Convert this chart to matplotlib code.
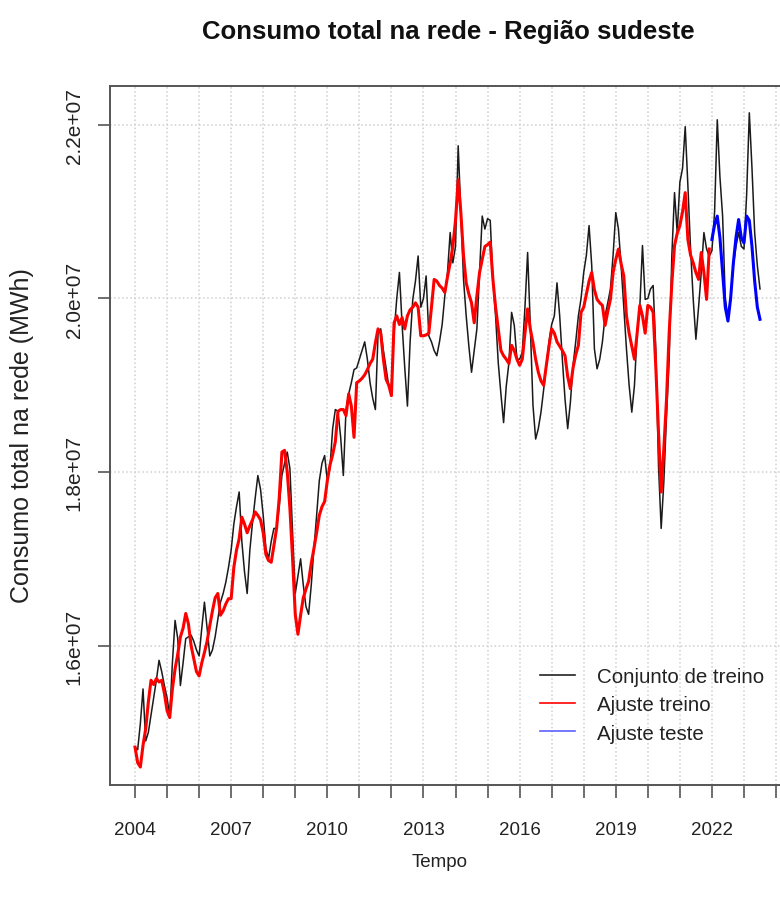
import numpy as np
import matplotlib
matplotlib.use("Agg")
import matplotlib.pyplot as plt
from matplotlib.lines import Line2D

plt.rcParams['font.family'] = ['Liberation Sans', 'DejaVu Sans']

# consumo mensal (milhoes de MWh), jan/2004 em diante
inicio = 2004
conjunto_treino = [
    14.83, 14.80, 15.10, 15.50, 14.90, 15.00, 15.20, 15.40, 15.60, 15.83, 15.70, 15.54,
    15.40, 15.19, 15.80, 16.29, 16.08, 15.54, 15.80, 16.08, 16.10, 16.12, 16.05, 15.95,
    15.88, 16.20, 16.50, 16.20, 15.88, 15.95, 16.10, 16.30, 16.50, 16.60, 16.73, 16.90,
    17.10, 17.40, 17.60, 17.77, 17.20, 16.85, 16.60, 17.10, 17.42, 17.70, 17.96, 17.80,
    17.50, 17.12, 17.00, 17.20, 17.35, 17.35, 17.60, 17.96, 18.10, 18.23, 18.04, 17.30,
    16.60, 16.80, 17.00, 16.70, 16.45, 16.36, 16.70, 17.12, 17.50, 17.90, 18.10, 18.19,
    17.90, 18.05, 18.50, 18.72, 18.70, 18.40, 17.96, 18.72, 18.90, 19.03, 19.18, 19.20,
    19.30, 19.40, 19.50, 19.30, 19.03, 18.85, 18.72, 19.60, 19.65, 19.40, 19.20, 18.99,
    19.00, 19.60, 20.00, 20.30, 19.70, 19.20, 18.76, 19.50, 19.99, 20.20, 20.49, 19.90,
    20.00, 20.26, 19.57, 19.50, 19.40, 19.34, 19.50, 19.70, 20.03, 20.30, 20.76, 20.41,
    20.60, 21.76, 20.99, 20.22, 19.80, 19.45, 19.15, 19.40, 19.65, 20.30, 20.95, 20.80,
    20.92, 20.90, 20.22, 19.80, 19.26, 18.90, 18.57, 18.99, 19.26, 19.84, 19.69, 19.30,
    19.30, 19.38, 19.90, 20.53, 19.69, 18.77, 18.38, 18.50, 18.69, 18.95, 19.23, 19.50,
    19.70, 19.80, 20.18, 19.80, 19.30, 18.84, 18.50, 18.80, 19.23, 19.50, 19.80, 20.00,
    20.30, 20.50, 20.84, 20.38, 19.42, 19.19, 19.30, 19.50, 19.80, 19.95, 20.11, 20.50,
    20.99, 20.80, 20.38, 19.90, 19.42, 19.00, 18.69, 19.00, 19.61, 19.90, 20.61, 19.99,
    20.00, 20.11, 20.15, 19.40, 18.07, 17.35, 17.89, 18.65, 19.30, 20.50, 21.22, 20.76,
    21.34, 21.50, 21.98, 21.30, 20.57, 19.99, 19.53, 19.90, 20.30, 20.76, 20.57, 20.49,
    20.55, 21.00, 22.06, 21.40, 20.95, 19.99, 19.80, 20.00, 20.38, 20.60, 20.76, 20.60,
    20.57, 21.20, 22.14, 21.50, 20.76, 20.38, 20.11,
]
ajuste_treino = [
    14.83, 14.65, 14.60, 14.85, 15.04, 15.35, 15.60, 15.55, 15.62, 15.58, 15.60, 15.45,
    15.25, 15.17, 15.50, 15.73, 15.90, 16.10, 16.20, 16.37, 16.25, 16.00, 15.85, 15.70,
    15.65, 15.80, 15.92, 16.05, 16.23, 16.40, 16.55, 16.60, 16.35, 16.40, 16.48, 16.54,
    16.54, 16.90, 17.10, 17.23, 17.48, 17.40, 17.30, 17.38, 17.45, 17.54, 17.50, 17.45,
    17.30, 17.05, 16.98, 16.96, 17.15, 17.35, 17.70, 18.23, 18.25, 18.00, 17.58, 17.00,
    16.36, 16.13, 16.35, 16.55, 16.65, 16.74, 16.95, 17.12, 17.30, 17.50, 17.60, 17.66,
    17.90, 18.08, 18.20, 18.35, 18.70, 18.72, 18.72, 18.65, 18.90, 18.76, 18.40, 19.03,
    19.05, 19.08, 19.12, 19.18, 19.25, 19.30, 19.49, 19.65, 19.60, 19.30, 19.07, 19.00,
    18.88, 19.72, 19.80, 19.70, 19.78, 19.65, 19.80, 19.87, 19.90, 19.95, 19.90, 19.57,
    19.57, 19.58, 19.60, 19.90, 20.22, 20.20, 20.15, 20.12, 20.07, 20.25, 20.41, 20.60,
    20.90, 21.37, 20.99, 20.49, 20.18, 20.05, 19.95, 19.72, 20.03, 20.30, 20.45, 20.60,
    20.62, 20.65, 20.22, 19.90, 19.65, 19.40, 19.34, 19.30, 19.25, 19.46, 19.40, 19.30,
    19.23, 19.30, 19.60, 19.88, 19.65, 19.49, 19.30, 19.15, 19.05, 19.00, 19.23, 19.45,
    19.65, 19.60, 19.50, 19.45, 19.40, 19.34, 19.10, 18.96, 19.20, 19.35, 19.46, 19.84,
    19.90, 20.05, 20.20, 20.30, 20.10, 19.99, 19.95, 19.92, 19.69, 19.85, 19.99, 20.30,
    20.45, 20.57, 20.40, 20.26, 19.80, 19.60, 19.45, 19.30, 19.60, 19.92, 19.80, 19.60,
    19.92, 19.90, 19.84, 19.20, 18.46, 17.77, 18.27, 18.84, 19.61, 20.18, 20.61, 20.75,
    20.84, 21.00, 21.22, 20.68, 20.50, 20.41, 20.30, 20.22, 20.53, 20.30, 19.99, 20.57,
]
ajuste_teste = [
    20.68, 20.85, 20.95, 20.70, 20.30, 19.90, 19.74, 20.00, 20.40, 20.70, 20.91, 20.70,
    20.64, 20.95, 20.90, 20.60, 20.20, 19.90, 19.76,
]

anos_ticks = list(range(2004, 2025))
y_ticks = [1.6e7, 1.8e7, 2.0e7, 2.2e7]

t_obs = inicio + np.arange(len(conjunto_treino)) / 12
t_fit = inicio + np.arange(len(ajuste_treino)) / 12
t_test = t_fit[-1] + (np.arange(len(ajuste_teste)) + 1) / 12

W, H = 780, 904
fig = plt.figure(figsize=(W / 100, H / 100), dpi=100)
ax = fig.add_axes([110 / W, (H - 786) / H, (785 - 110) / W, (786 - 87) / H])

for v in anos_ticks:
    ax.axvline(v, color='#cfcfcf', ls=':', lw=1.1, zorder=0)
for v in y_ticks:
    ax.axhline(v, color='#cfcfcf', ls=':', lw=1.1, zorder=0)

ax.plot(t_obs, np.array(conjunto_treino) * 1e6, color='#1a1a1a', lw=1.1)
ax.plot(t_fit, np.array(ajuste_treino) * 1e6, color='#ff0000', lw=2.2)
ax.plot(t_test, np.array(ajuste_teste) * 1e6, color='#0000ff', lw=2.2)

ax.set_xlim(2003.22, 2024.28)
ax.set_ylim(14.393e6, 22.449e6)

ax.set_xticks(anos_ticks)
ax.set_xticklabels([str(a) if (a - 2004) % 3 == 0 else '' for a in anos_ticks],
                   fontsize=13.5)
ax.set_yticks(y_ticks)
ax.set_yticklabels([f"{v:.1e}" for v in y_ticks], rotation=90, va='center',
                   fontsize=15)

for s in ax.spines.values():
    s.set_color('#555555')
    s.set_linewidth(1.4)
ax.tick_params(axis='both', length=9, width=1.2, color='#555555',
               labelcolor='#222222')
ax.tick_params(axis='x', pad=17)
ax.tick_params(axis='y', pad=10)

fig.text(448 / W, 1 - 32 / H, 'Consumo total na rede - Região sudeste',
         ha='center', va='center', fontsize=18.5, fontweight='bold',
         color='#111111')
fig.text(440 / W, 1 - 863 / H, 'Tempo', ha='center', va='center',
         fontsize=13.5, color='#222222')
fig.text(22 / W, 1 - 436 / H, 'Consumo total na rede (MWh)', ha='center',
         va='center', rotation=90, fontsize=18, color='#222222')

handles = [Line2D([], [], color='#222222', lw=1.2),
           Line2D([], [], color='#ff0000', lw=1.2),
           Line2D([], [], color='#6060ff', lw=1.2)]
ax.legend(handles, ['Conjunto de treino', 'Ajuste treino', 'Ajuste teste'],
          loc='upper left', bbox_to_anchor=(540 / W, 1 - 668 / H),
          bbox_transform=fig.transFigure, frameon=False, fontsize=14.8,
          handlelength=1.7, handletextpad=1.05, labelspacing=0.45,
          borderpad=0, borderaxespad=0, labelcolor='#222222')

fig.savefig('out.png', dpi=100, facecolor='white')
